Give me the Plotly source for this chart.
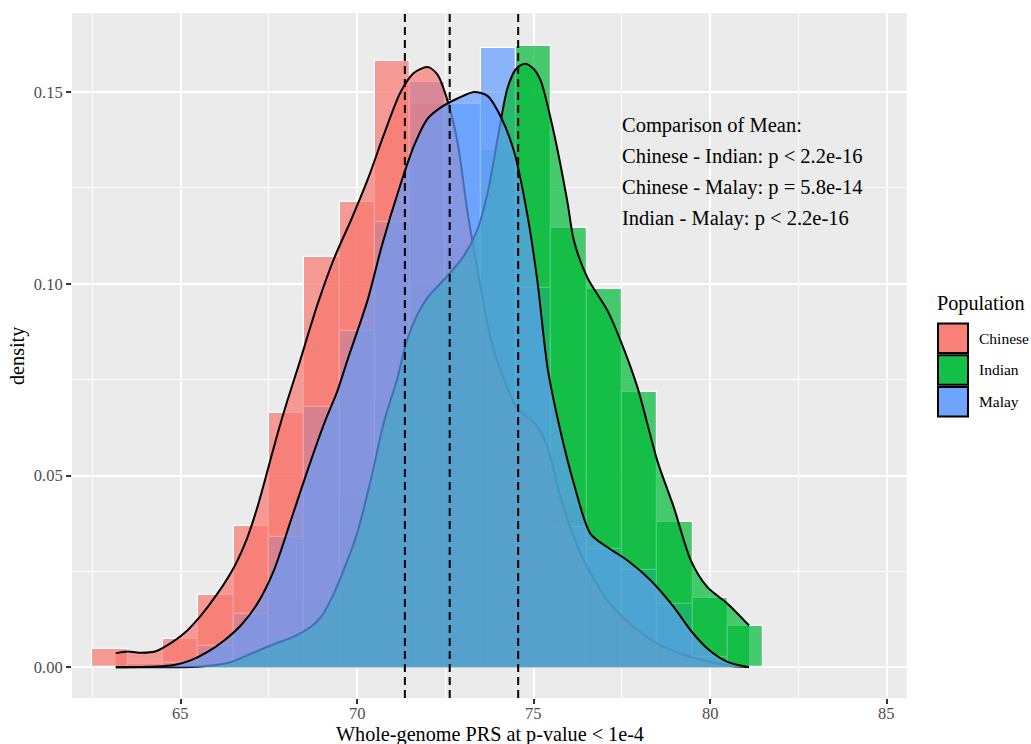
import plotly.graph_objects as go

# ---------------- data ----------------
populations = ["Chinese", "Indian", "Malay"]
pop_colors = ["#F8766D", "#00BA38", "#619CFF"]

bin_centers = [63, 64, 65, 66, 67, 68, 69, 70, 71, 72, 73, 74, 75, 76, 77, 78, 79, 80, 81]
chinese_hist = [0.0047, 0.0009, 0.0074, 0.0188, 0.0368, 0.0662, 0.1070, 0.1212, 0.1582, 0.1470,
                0.1100, 0.0780, 0.0620, 0.0420, 0.0220, 0.0110, 0.0040, 0.0020, 0.0000]
indian_hist = [0.0000, 0.0000, 0.0000, 0.0010, 0.0040, 0.0080, 0.0180, 0.0450, 0.0700, 0.1000,
               0.1050, 0.1350, 0.1620, 0.1145, 0.0986, 0.0717, 0.0378, 0.0180, 0.0109]
malay_hist = [0.0000, 0.0000, 0.0010, 0.0055, 0.0140, 0.0340, 0.0678, 0.0878, 0.1160, 0.1527,
              0.1470, 0.1614, 0.0990, 0.0365, 0.0309, 0.0253, 0.0166, 0.0027, 0.0000]

chinese_dens_x = [63.16, 63.5, 63.9, 64.3, 64.7, 65.09, 65.57, 66.04, 66.51, 66.89, 67.17, 67.46,
                  67.74, 68.02, 68.35, 68.87, 69.34, 69.82, 70.29, 70.76, 71.23, 71.61, 71.99,
                  72.27, 72.56, 72.84, 73.12, 73.5, 73.8, 74.1, 74.54, 75.0, 75.39, 75.76, 76.33,
                  77.09, 77.84, 78.5, 79.45, 80.49, 81.1]
chinese_dens_y = [0.0037, 0.0041, 0.0038, 0.0042, 0.0062, 0.0088, 0.0135, 0.0192, 0.0261, 0.0339,
                  0.0417, 0.0513, 0.0608, 0.0695, 0.0790, 0.0945, 0.1065, 0.1165, 0.1270, 0.1390,
                  0.1500, 0.1550, 0.1565, 0.1546, 0.1477, 0.1370, 0.1190, 0.0990, 0.0850, 0.0765,
                  0.0674, 0.0640, 0.0574, 0.0443, 0.0296, 0.0174, 0.0105, 0.0062, 0.0027, 0.0005,
                  0.0001]

indian_dens_x = [63.16, 64.5, 65.3, 65.66, 66.0, 66.4, 66.98, 67.55, 68.2, 68.68, 69.0, 69.3, 69.6,
                 70.0, 70.4, 70.76, 71.14, 71.4, 71.71, 72.0, 72.5, 73.0, 73.4, 73.7, 74.0, 74.26,
                 74.5, 74.75, 75.0, 75.2, 75.58, 75.95, 76.14, 76.52, 77.09, 77.46, 77.94, 78.5,
                 78.97, 79.45, 79.92, 80.49, 81.1]
indian_dens_y = [0.0000, 0.0000, 0.0001, 0.0003, 0.0006, 0.0013, 0.0035, 0.0057, 0.0080, 0.0105,
                 0.0135, 0.0185, 0.0250, 0.0350, 0.0495, 0.0640, 0.0755, 0.0850, 0.0921, 0.0965,
                 0.1015, 0.1070, 0.1140, 0.1240, 0.1390, 0.1511, 0.1560, 0.1574, 0.1560, 0.1529,
                 0.1390, 0.1216, 0.1112, 0.1016, 0.0930, 0.0852, 0.0730, 0.0539, 0.0417, 0.0279,
                 0.0209, 0.0166, 0.0109]

malay_dens_x = [63.16, 64.3, 64.81, 65.28, 65.76, 66.23, 66.7, 67.17, 67.64, 68.12, 68.59, 69.06,
                69.44, 69.72, 70.29, 70.7, 71.23, 71.61, 71.99, 72.37, 72.84, 73.31, 73.69, 74.07,
                74.44, 74.82, 75.1, 75.39, 75.67, 76.14, 76.61, 77.09, 77.65, 78.31, 78.97, 79.45,
                79.92, 80.49, 81.1]
malay_dens_y = [0.0000, 0.0002, 0.0006, 0.0018, 0.0040, 0.0070, 0.0109, 0.0166, 0.0253, 0.0383,
                0.0513, 0.0635, 0.0721, 0.0800, 0.0956, 0.1100, 0.1260, 0.1360, 0.1430, 0.1460,
                0.1483, 0.1500, 0.1490, 0.1435, 0.1346, 0.1180, 0.1010, 0.0782, 0.0652, 0.0478,
                0.0348, 0.0313, 0.0279, 0.0227, 0.0157, 0.0096, 0.0049, 0.0014, 0.0000]

group_means = [71.35, 74.56, 72.62]   # Chinese, Indian, Malay

x_ticks = [65, 70, 75, 80, 85]
x_tick_labels = ["65", "70", "75", "80", "85"]
y_ticks = [0.00, 0.05, 0.10, 0.15]
y_tick_labels = ["0.00", "0.05", "0.10", "0.15"]

x_title = "Whole-genome PRS at p-value < 1e-4"
y_title = "density"
legend_title = "Population"
comparison_lines = ["Comparison of Mean:",
                    "Chinese - Indian: p < 2.2e-16",
                    "Chinese - Malay: p = 5.8e-14",
                    "Indian - Malay: p < 2.2e-16"]

# ---------------- helpers ----------------
def rgba(hex_color, a):
    h = hex_color.lstrip("#")
    r, g, b = int(h[0:2], 16), int(h[2:4], 16), int(h[4:6], 16)
    return f"rgba({r},{g},{b},{a})"

HIST_ALPHA = 0.7
DENS_ALPHA = 0.7
FONT = "Liberation Serif, Times New Roman, Times, serif"

hists = [chinese_hist, indian_hist, malay_hist]
dens = [(chinese_dens_x, chinese_dens_y), (indian_dens_x, indian_dens_y), (malay_dens_x, malay_dens_y)]

fig = go.Figure()

# histograms (drawn first, below densities)
for name, col, h in zip(populations, pop_colors, hists):
    xs = [c for c, v in zip(bin_centers, h) if v > 0]
    ys = [v for v in h if v > 0]
    fig.add_trace(go.Bar(
        x=xs, y=ys, width=1, name=name, showlegend=False,
        marker=dict(color=rgba(col, HIST_ALPHA), line=dict(color="white", width=1.2)),
        hoverinfo="skip",
    ))

# densities
for name, col, (dx, dy) in zip(populations, pop_colors, dens):
    fig.add_trace(go.Scatter(
        x=dx, y=dy, mode="lines", name=name, showlegend=False,
        line=dict(color="black", width=2, shape="spline", smoothing=0.8),
        fill="tozeroy", fillcolor=rgba(col, DENS_ALPHA),
        hoverinfo="skip",
    ))

# dashed mean lines
shapes = []
for m in group_means:
    shapes.append(dict(type="line", xref="x", yref="paper", x0=m, x1=m, y0=0, y1=1,
                       line=dict(color="black", width=2, dash="8px,5px"), layer="above"))

# ---------------- layout geometry ----------------
W, H = 1031, 744
L, R, T, B = 72, 907, 13, 698   # panel edges in px
pw, ph = R - L, B - T

def px_to_paper_x(px):
    return (px - L) / pw

def px_to_paper_y(py):
    return (B - py) / ph

annotations = []
# x tick labels (placed on the x scale, slightly closer to the axis than plotly's default)
for tv, tl in zip(x_ticks, x_tick_labels):
    annotations.append(dict(text=tl, xref="x", yref="paper", x=tv, y=px_to_paper_y(713.5),
                            xanchor="center", yanchor="middle", showarrow=False,
                            font=dict(family=FONT, size=16.5, color="#4D4D4D")))

# comparison text block
y0_px = 125.7
for i, line in enumerate(comparison_lines):
    annotations.append(dict(
        text=line, xref="paper", yref="paper",
        x=px_to_paper_x(620), y=px_to_paper_y(y0_px + i * 30.8),
        xanchor="left", yanchor="middle", showarrow=False,
        font=dict(family=FONT, size=20.5, color="black")))

# axis titles
annotations.append(dict(text=x_title, xref="paper", yref="paper", x=0.5, y=px_to_paper_y(734),
                        xanchor="center", yanchor="middle", showarrow=False,
                        font=dict(family=FONT, size=20.2, color="black")))
annotations.append(dict(text=y_title, xref="paper", yref="paper", x=px_to_paper_x(17.5), y=0.5,
                        xanchor="center", yanchor="middle", showarrow=False, textangle=-90,
                        font=dict(family=FONT, size=20.2, color="black")))

# legend (manual, ggplot-like)
annotations.append(dict(text=legend_title, xref="paper", yref="paper",
                        x=px_to_paper_x(935.5), y=px_to_paper_y(303.5),
                        xanchor="left", yanchor="middle", showarrow=False,
                        font=dict(family=FONT, size=20.2, color="black")))
key_top0, key_pitch, key_size = 323.5, 31.7, 29.5
kx0, kx1 = 938, 968
for i, (name, col) in enumerate(zip(populations, pop_colors)):
    top = key_top0 + i * key_pitch
    bot = top + key_size
    base = dict(type="rect", xref="paper", yref="paper",
                x0=px_to_paper_x(kx0), x1=px_to_paper_x(kx1),
                y0=px_to_paper_y(bot), y1=px_to_paper_y(top), layer="above")
    shapes.append(dict(base, fillcolor="#F2F2F2", line=dict(width=0)))
    shapes.append(dict(base, fillcolor=rgba(col, HIST_ALPHA), line=dict(width=0)))
    shapes.append(dict(base, fillcolor=rgba(col, DENS_ALPHA), line=dict(color="black", width=2)))
    annotations.append(dict(text=name, xref="paper", yref="paper",
                            x=px_to_paper_x(977.5), y=px_to_paper_y((top + bot) / 2),
                            xanchor="left", yanchor="middle", showarrow=False,
                            font=dict(family=FONT, size=15.5, color="black")))

x_minor = [t - 2.5 for t in x_ticks] + [x_ticks[-1] + 2.5]
y_minor = [t + 0.025 for t in y_ticks]

fig.update_layout(
    width=W, height=H,
    margin=dict(l=L, r=W - R, t=T, b=H - B, pad=0, autoexpand=False),
    paper_bgcolor="white", plot_bgcolor="#EBEBEB",
    barmode="overlay", bargap=0, showlegend=False,
    font=dict(family=FONT, color="black"),
    shapes=shapes, annotations=annotations,
)
fig.update_xaxes(
    range=[61.92, 85.575], tickmode="array", tickvals=x_ticks, ticktext=x_tick_labels,
    showticklabels=False,
    ticks="outside", ticklen=5, tickwidth=2, tickcolor="#333333",
    showgrid=True, gridcolor="white", gridwidth=2, zeroline=False, showline=False,
    minor=dict(tickvals=x_minor, showgrid=True, gridcolor="white", gridwidth=1, ticks=""),
)
fig.update_yaxes(
    range=[-0.0080, 0.1706], tickmode="array", tickvals=y_ticks, ticktext=y_tick_labels,
    ticks="outside", ticklen=5, tickwidth=2, tickcolor="#333333",
    tickfont=dict(family=FONT, size=16.5, color="#4D4D4D"),
    showgrid=True, gridcolor="white", gridwidth=2, zeroline=False, showline=False,
    minor=dict(tickvals=y_minor, showgrid=True, gridcolor="white", gridwidth=1, ticks=""),
)

fig.write_html("out.html")
